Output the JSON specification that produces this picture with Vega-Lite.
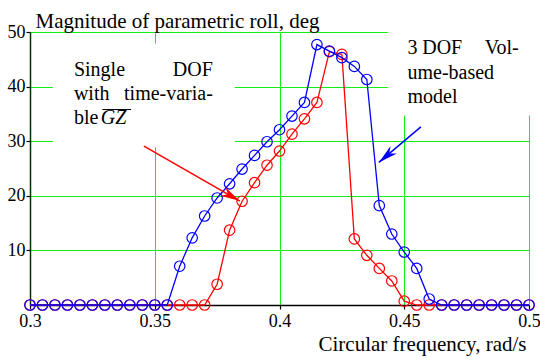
{
  "$schema": "https://vega.github.io/schema/vega-lite/v6.json",
  "width": 499,
  "height": 273,
  "autosize": "none",
  "padding": {"left": 30, "top": 32, "right": 11, "bottom": 53},
  "view": {"stroke": null},
  "datasets": {
    "curves": [
      {"f": 0.300, "amp": 0, "model": "single"},
      {"f": 0.305, "amp": 0, "model": "single"},
      {"f": 0.310, "amp": 0, "model": "single"},
      {"f": 0.315, "amp": 0, "model": "single"},
      {"f": 0.320, "amp": 0, "model": "single"},
      {"f": 0.325, "amp": 0, "model": "single"},
      {"f": 0.330, "amp": 0, "model": "single"},
      {"f": 0.335, "amp": 0, "model": "single"},
      {"f": 0.340, "amp": 0, "model": "single"},
      {"f": 0.345, "amp": 0, "model": "single"},
      {"f": 0.350, "amp": 0, "model": "single"},
      {"f": 0.355, "amp": 0, "model": "single"},
      {"f": 0.360, "amp": 0, "model": "single"},
      {"f": 0.365, "amp": 0, "model": "single"},
      {"f": 0.370, "amp": 0, "model": "single"},
      {"f": 0.375, "amp": 3.8, "model": "single"},
      {"f": 0.380, "amp": 13.7, "model": "single"},
      {"f": 0.385, "amp": 19.0, "model": "single"},
      {"f": 0.390, "amp": 22.4, "model": "single"},
      {"f": 0.395, "amp": 25.6, "model": "single"},
      {"f": 0.400, "amp": 28.2, "model": "single"},
      {"f": 0.405, "amp": 31.3, "model": "single"},
      {"f": 0.410, "amp": 34.1, "model": "single"},
      {"f": 0.415, "amp": 37.1, "model": "single"},
      {"f": 0.420, "amp": 46.4, "model": "single"},
      {"f": 0.425, "amp": 45.9, "model": "single"},
      {"f": 0.430, "amp": 12.1, "model": "single"},
      {"f": 0.435, "amp": 9.1, "model": "single"},
      {"f": 0.440, "amp": 6.7, "model": "single"},
      {"f": 0.445, "amp": 4.4, "model": "single"},
      {"f": 0.450, "amp": 0.7, "model": "single"},
      {"f": 0.455, "amp": 0, "model": "single"},
      {"f": 0.460, "amp": 0, "model": "single"},
      {"f": 0.465, "amp": 0, "model": "single"},
      {"f": 0.470, "amp": 0, "model": "single"},
      {"f": 0.475, "amp": 0, "model": "single"},
      {"f": 0.480, "amp": 0, "model": "single"},
      {"f": 0.485, "amp": 0, "model": "single"},
      {"f": 0.490, "amp": 0, "model": "single"},
      {"f": 0.495, "amp": 0, "model": "single"},
      {"f": 0.500, "amp": 0, "model": "single"},
      {"f": 0.300, "amp": 0, "model": "volume"},
      {"f": 0.305, "amp": 0, "model": "volume"},
      {"f": 0.310, "amp": 0, "model": "volume"},
      {"f": 0.315, "amp": 0, "model": "volume"},
      {"f": 0.320, "amp": 0, "model": "volume"},
      {"f": 0.325, "amp": 0, "model": "volume"},
      {"f": 0.330, "amp": 0, "model": "volume"},
      {"f": 0.335, "amp": 0, "model": "volume"},
      {"f": 0.340, "amp": 0, "model": "volume"},
      {"f": 0.345, "amp": 0, "model": "volume"},
      {"f": 0.350, "amp": 0, "model": "volume"},
      {"f": 0.355, "amp": 0, "model": "volume"},
      {"f": 0.360, "amp": 7.1, "model": "volume"},
      {"f": 0.365, "amp": 12.3, "model": "volume"},
      {"f": 0.370, "amp": 16.3, "model": "volume"},
      {"f": 0.375, "amp": 19.6, "model": "volume"},
      {"f": 0.380, "amp": 22.2, "model": "volume"},
      {"f": 0.385, "amp": 24.9, "model": "volume"},
      {"f": 0.390, "amp": 27.4, "model": "volume"},
      {"f": 0.395, "amp": 29.9, "model": "volume"},
      {"f": 0.400, "amp": 32.1, "model": "volume"},
      {"f": 0.405, "amp": 34.6, "model": "volume"},
      {"f": 0.410, "amp": 37.1, "model": "volume"},
      {"f": 0.415, "amp": 47.7, "model": "volume"},
      {"f": 0.420, "amp": 46.5, "model": "volume"},
      {"f": 0.425, "amp": 45.3, "model": "volume"},
      {"f": 0.430, "amp": 43.7, "model": "volume"},
      {"f": 0.435, "amp": 41.3, "model": "volume"},
      {"f": 0.440, "amp": 18.2, "model": "volume"},
      {"f": 0.445, "amp": 13.0, "model": "volume"},
      {"f": 0.450, "amp": 9.7, "model": "volume"},
      {"f": 0.455, "amp": 6.7, "model": "volume"},
      {"f": 0.460, "amp": 1.1, "model": "volume"},
      {"f": 0.465, "amp": 0, "model": "volume"},
      {"f": 0.470, "amp": 0, "model": "volume"},
      {"f": 0.475, "amp": 0, "model": "volume"},
      {"f": 0.480, "amp": 0, "model": "volume"},
      {"f": 0.485, "amp": 0, "model": "volume"},
      {"f": 0.490, "amp": 0, "model": "volume"},
      {"f": 0.495, "amp": 0, "model": "volume"},
      {"f": 0.500, "amp": 0, "model": "volume"}
    ],
    "masks": [
      {"x1": 0.3092, "x2": 0.3821, "y1": 28.9, "y2": 47.9},
      {"x1": 0.4434, "x2": 0.5060, "y1": 34.7, "y2": 52.0}
    ],
    "notesLeft": [
      {"label": "Single", "fx": 0.3176, "fy": 41.9},
      {"label": "with", "fx": 0.3176, "fy": 37.5},
      {"label": "ble", "fx": 0.3176, "fy": 33.1},
      {"label": "3", "fx": 0.4513, "fy": 46.05},
      {"label": "DOF", "fx": 0.4572, "fy": 46.05},
      {"label": "ume-based", "fx": 0.4513, "fy": 41.47},
      {"label": "model", "fx": 0.4513, "fy": 37.0}
    ],
    "notesRight": [
      {"label": "DOF", "fx": 0.3733, "fy": 41.9},
      {"label": "time-varia-", "fx": 0.3733, "fy": 37.5},
      {"label": "Vol-", "fx": 0.4959, "fy": 46.05}
    ],
    "arrows": [
      {"model": "single", "xa": 0.34567, "ya": 29.09, "xb": 0.38413, "yb": 19.03, "ang": 29.8},
      {"model": "volume", "xa": 0.45665, "ya": 32.62, "xb": 0.43982, "yb": 26.11, "ang": 139.7}
    ],
    "gz": [
      {"label": "GZ", "fx": 0.3284, "fy": 33.1, "ox1": 0.3290, "ox2": 0.3405, "oy": 35.8}
    ]
  },
  "layer": [
    {
      "data": {"name": "masks"},
      "mark": {"type": "rect", "fill": "white", "stroke": null, "clip": false},
      "encoding": {
        "x": {"field": "x1", "type": "quantitative", "scale": {"domain": [0.3, 0.5], "nice": false, "zero": false},
          "axis": {"values": [0.3, 0.35, 0.4, 0.45, 0.5], "format": "~g", "grid": true, "gridColor": "#11ee11", "gridWidth": 1, "gridOpacity": 1,
            "domainColor": "black", "domainWidth": 1.3, "tickColor": "black", "tickSize": 4, "tickWidth": 1.2,
            "labelFont": "serif", "labelFontSize": 18, "labelColor": "black", "labelPadding": 3, "labelFlush": false,
            "title": "Circular frequency, rad/s", "titleFont": "serif", "titleFontSize": 21, "titleFontWeight": "normal", "titleColor": "black", "titleAnchor": "end", "titleAlign": "right", "titleBaseline": "alphabetic", "titleX": 496, "titleY": 45}},
        "x2": {"field": "x2"},
        "y": {"field": "y1", "type": "quantitative", "scale": {"domain": [0, 50], "nice": false},
          "axis": {"values": [10, 20, 30, 40, 50], "grid": true, "gridColor": "#11ee11", "gridWidth": 1, "gridOpacity": 1,
            "domainColor": "#003300", "domainWidth": 1.5, "tickColor": "black", "tickSize": 4, "tickWidth": 1.2,
            "labelFont": "Times New Roman", "labelFontStyle": "normal", "labelFontSize": 18, "labelColor": "black", "labelPadding": 1, "labelFlush": false,
            "title": "Magnitude of parametric roll, deg", "titleFont": "Liberation Serif", "titleFontStyle": "normal", "titleFontSize": 21, "titleFontWeight": "normal", "titleColor": "black", "titleAngle": 0, "titleAlign": "left", "titleBaseline": "alphabetic", "titleX": 5, "titleY": -5}},
        "y2": {"field": "y2"}
      }
    },
    {
      "data": {"name": "curves"},
      "transform": [{"filter": "datum.model === 'single'"}],
      "mark": {"type": "line", "color": "#ff0000", "strokeWidth": 1.3},
      "encoding": {
        "x": {"field": "f", "type": "quantitative"},
        "y": {"field": "amp", "type": "quantitative"}
      }
    },
    {
      "data": {"name": "curves"},
      "transform": [{"filter": "datum.model === 'single'"}],
      "mark": {"type": "point", "shape": "circle", "filled": false, "color": "#ff0000", "size": 110, "strokeWidth": 1.2, "opacity": 1},
      "encoding": {
        "x": {"field": "f", "type": "quantitative"},
        "y": {"field": "amp", "type": "quantitative"}
      }
    },
    {
      "data": {"name": "curves"},
      "transform": [{"filter": "datum.model === 'volume'"}],
      "mark": {"type": "line", "color": "#0000ff", "strokeWidth": 1.3},
      "encoding": {
        "x": {"field": "f", "type": "quantitative"},
        "y": {"field": "amp", "type": "quantitative"}
      }
    },
    {
      "data": {"name": "curves"},
      "transform": [{"filter": "datum.model === 'volume'"}],
      "mark": {"type": "point", "shape": "circle", "filled": false, "color": "#0000ff", "size": 110, "strokeWidth": 1.2, "opacity": 1},
      "encoding": {
        "x": {"field": "f", "type": "quantitative"},
        "y": {"field": "amp", "type": "quantitative"}
      }
    },
    {
      "data": {"name": "arrows"},
      "mark": {"type": "rule", "strokeWidth": 1.5, "clip": false},
      "encoding": {
        "x": {"field": "xa", "type": "quantitative"},
        "y": {"field": "ya", "type": "quantitative"},
        "x2": {"field": "xb"},
        "y2": {"field": "yb"},
        "color": {"field": "model", "type": "nominal", "scale": {"domain": ["single", "volume"], "range": ["#ff0000", "#0000ff"]}, "legend": null}
      }
    },
    {
      "data": {"name": "arrows"},
      "mark": {"type": "point", "shape": "M0,0 L-2,-0.5 L-1.4,0 L-2,0.5 Z", "filled": true, "size": 380, "opacity": 1, "strokeWidth": 0},
      "encoding": {
        "x": {"field": "xb", "type": "quantitative"},
        "y": {"field": "yb", "type": "quantitative"},
        "angle": {"field": "ang", "type": "quantitative", "scale": null},
        "color": {"field": "model", "type": "nominal", "scale": {"domain": ["single", "volume"], "range": ["#ff0000", "#0000ff"]}, "legend": null}
      }
    },
    {
      "data": {"name": "notesLeft"},
      "mark": {"type": "text", "align": "left", "baseline": "alphabetic", "fontSize": 20, "font": "serif", "color": "black", "clip": false},
      "encoding": {
        "x": {"field": "fx", "type": "quantitative"},
        "y": {"field": "fy", "type": "quantitative"},
        "text": {"field": "label"}
      }
    },
    {
      "data": {"name": "notesRight"},
      "mark": {"type": "text", "align": "right", "baseline": "alphabetic", "fontSize": 20, "font": "Liberation Serif", "fontStyle": "normal", "fontWeight": "normal", "color": "black", "clip": false},
      "encoding": {
        "x": {"field": "fx", "type": "quantitative"},
        "y": {"field": "fy", "type": "quantitative"},
        "text": {"field": "label"}
      }
    },
    {
      "data": {"name": "gz"},
      "mark": {"type": "text", "align": "left", "baseline": "alphabetic", "fontSize": 20, "font": "Liberation Serif", "fontStyle": "italic", "color": "black"},
      "encoding": {
        "x": {"field": "fx", "type": "quantitative"},
        "y": {"field": "fy", "type": "quantitative"},
        "text": {"field": "label"}
      }
    },
    {
      "data": {"name": "gz"},
      "mark": {"type": "rule", "color": "black", "strokeWidth": 1},
      "encoding": {
        "x": {"field": "ox1", "type": "quantitative"},
        "x2": {"field": "ox2"},
        "y": {"field": "oy", "type": "quantitative"}
      }
    }
  ]
}
